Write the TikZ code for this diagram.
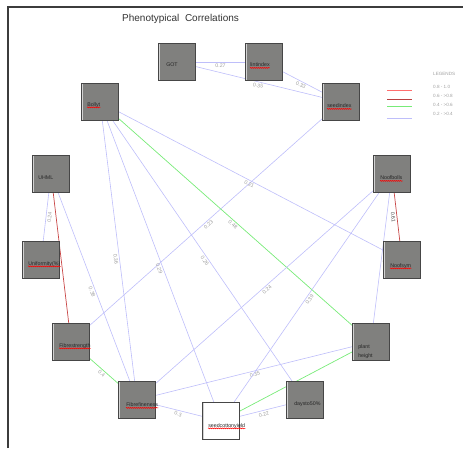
\documentclass[tikz,border=0pt]{standalone}
\usepackage{fontspec}
\setmainfont{Liberation Sans}
\usetikzlibrary{backgrounds,decorations.pathmorphing}
\definecolor{lavc}{RGB}{190,190,250}
\definecolor{grnc}{RGB}{120,235,120}
\definecolor{dredc}{RGB}{200,70,70}
\definecolor{lredc}{RGB}{255,110,110}
\definecolor{legredc}{RGB}{185,65,65}
\definecolor{boxfill}{RGB}{128,128,126}
\definecolor{boxline}{RGB}{70,70,70}
\definecolor{lblgray}{RGB}{160,160,160}
\definecolor{framec}{RGB}{60,60,60}
\begin{document}
\begin{tikzpicture}[x=1pt,y=-1pt,
  box/.style={draw=boxline, line width=0.9pt, fill=boxfill, minimum size=37pt, inner sep=0pt,
    path picture={\draw[gray!35, line width=0.9pt]
      ([xshift=0.9pt]path picture bounding box.north west) -- ([xshift=0.9pt]path picture bounding box.south west);}},
  wbox/.style={box, fill=white},
  txt/.style={font=\fontsize{5.3}{6}\selectfont, text=black!85, inner sep=0pt, anchor=west},
  squig/.style={draw=red, line width=0.5pt, decorate, decoration={snake, amplitude=0.5pt, segment length=2pt}},
  lavline/.style={draw=lavc, line width=0.6pt},
  grnline/.style={draw=grnc, line width=0.7pt},
  redline/.style={draw=dredc, line width=0.7pt},
  lbl/.style={font=\fontsize{5.3}{6}\selectfont, text=lblgray, sloped, inner sep=1.5pt, anchor=north},
  leg/.style={font=\fontsize{4.6}{5}\selectfont, text=lblgray, inner sep=0pt, anchor=west}
]
\useasboundingbox (0,0) rectangle (463,448);

% frame
\coordinate (fa) at (8,448);
\coordinate (fb) at (8,7);
\coordinate (fc) at (463,7);
\draw[framec, line width=1.2pt] (fa) -- (fb) -- (fc);

% title
\node[font=\fontsize{10}{12}\selectfont, text=black!80, anchor=west, inner sep=0pt] (title) at (122,19) {Phenotypical\ \ Correlations};

% boxes
\node[box] (got) at (177,62) {};
\node[box] (lint) at (264,62) {};
\node[box] (seedidx) at (341,102) {};
\node[box] (bollyt) at (100,102) {};
\node[box] (uhml) at (51,174) {};
\node[box] (unif) at (41,260) {};
\node[box] (fstr) at (71,342) {};
\node[box] (ffin) at (137,400) {};
\node[wbox] (scy) at (221,421) {};
\node[box] (days) at (305,400) {};
\node[box] (ph) at (371,342) {};
\node[box] (bolls) at (392,174) {};
\node[box] (sym) at (402,260) {};

% box texts
\node[txt] (got-t) at ([xshift=8pt,yshift=-3pt]got.west) {GOT};
\node[txt] (lint-t) at ([xshift=5pt,yshift=-3pt]lint.west) {lintindex};
\node[txt] (seedidx-t) at ([xshift=5pt,yshift=-4pt]seedidx.west) {seedindex};
\node[txt] (bollyt-t) at ([xshift=6pt,yshift=-3pt]bollyt.west) {Bollyt};
\node[txt] (uhml-t) at ([xshift=6pt,yshift=-4pt]uhml.west) {UHML};
\node[txt] (unif-t) at ([xshift=6pt,yshift=-4pt]unif.west) {Uniformity(\%)};
\node[txt] (fstr-t) at ([xshift=7pt,yshift=-4pt]fstr.west) {Fibrestrength};
\node[txt] (ffin-t) at ([xshift=8pt,yshift=-5pt]ffin.west) {Fibrefineness};
\node[txt] (scy-t) at ([xshift=6pt,yshift=-5pt]scy.west) {seedcottonyield};
\node[txt] (days-t) at ([xshift=8pt,yshift=-4pt]days.west) {daysto50\%};
\node[txt, font=\fontsize{5.3}{9}\selectfont, align=left] (ph-t) at ([xshift=6pt,yshift=-10pt]ph.west) {plant\\height};
\node[txt] (bolls-t) at ([xshift=7pt,yshift=-4pt]bolls.west) {Noofbolls};
\node[txt] (sym-t) at ([xshift=7pt,yshift=-6pt]sym.west) {Noofsym};

% red squiggles
\foreach \n in {lint,seedidx,bollyt,unif,fstr,ffin,scy,bolls,sym}{
  \draw[squig] ([yshift=-1pt]\n-t.base west) -- ([yshift=-1pt]\n-t.base east);
}

% edges
\begin{scope}[on background layer]
\draw[lavline] (got) -- node[lbl] {0.27} (lint);
\draw[lavline] (got) -- node[lbl] {0.35} (seedidx);
\draw[lavline] (lint) -- node[lbl] {0.33} (seedidx);
\draw[lavline] (seedidx) -- node[lbl] {0.23} (fstr);
\draw[grnline] (bollyt) -- node[lbl] {0.48} (ph);
\draw[lavline] (bollyt) -- node[lbl] {0.21} (sym);
\draw[lavline] (bollyt) -- node[lbl, pos=0.53] {0.36} (ffin);
\draw[lavline] (bollyt) -- node[lbl, pos=0.52] {0.29} (scy);
\draw[lavline] (bollyt) -- node[lbl, pos=0.53] {0.26} (days);
\draw[lavline] (uhml) -- node[lbl] {0.24} (unif);
\draw[redline] (uhml) -- node[lbl, pos=0.47, text=black!70] {0.71} (fstr);
\draw[lavline] (uhml) -- node[lbl, pos=0.52] {0.38} (ffin);
\draw[grnline] (fstr) -- node[lbl] {0.4} (ffin);
\draw[lavline] (ffin) -- node[lbl] {0.24} (bolls);
\draw[lavline] (ffin) -- node[lbl] {0.35} (ph);
\draw[lavline] (ffin) -- node[lbl] {0.3} (scy);
\draw[lavline] (scy) -- node[lbl] {0.22} (days);
\draw[grnline] (scy) -- (ph);
\draw[lavline] (scy) -- node[lbl] {0.39} (bolls);
\draw[redline] (bolls) -- node[lbl, text=black!70] {0.61} (sym);
\draw[lavline] (bolls) -- node[lbl] {0.32} (ph);
\end{scope}

% legend
\node[leg] (legt) at (433,74) {LEGENDS};
\coordinate (l1a) at (387,90);  \coordinate (l1b) at (412,90);
\coordinate (l2a) at (387,99);  \coordinate (l2b) at (412,99);
\coordinate (l3a) at (387,106); \coordinate (l3b) at (412,106);
\coordinate (l4a) at (387,118); \coordinate (l4b) at (412,118);
\draw[draw=lredc, line width=0.7pt] (l1a) -- (l1b);
\draw[draw=legredc, line width=0.7pt] (l2a) -- (l2b);
\draw[grnline] (l3a) -- (l3b);
\draw[lavline] (l4a) -- (l4b);
\node[leg] (leg1) at (433,87) {0.8 - 1.0};
\node[leg] (leg2) at (433,96) {0.6 - >0.8};
\node[leg] (leg3) at (433,105) {0.4 - >0.6};
\node[leg] (leg4) at (433,114) {0.2 - >0.4};
\end{tikzpicture}
\end{document}
